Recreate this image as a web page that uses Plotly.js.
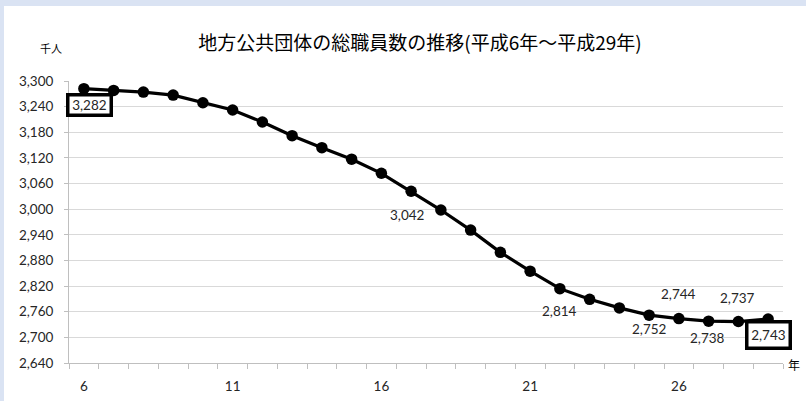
<!DOCTYPE html>
<html><head><meta charset="utf-8">
<script src="https://cdn.plot.ly/plotly-3.0.1.min.js"></script>
<style>
html,body{margin:0;padding:0;background:#dae3f3;width:806px;height:401px;overflow:hidden;}
#chart{position:absolute;left:4px;top:6px;width:802px;height:395px;background:#fff;}
</style></head><body><div id="chart"></div>
<script>
// Data (平成 year, 千人)
const years = [6,7,8,9,10,11,12,13,14,15,16,17,18,19,20,21,22,23,24,25,26,27,28,29];
const staff = [3282,3278,3274,3267,3249,3232,3204,3172,3144,3117,3084,3042,2998,2951,2899,2855,2814,2789,2769,2752,2744,2738,2737,2743];
const xTickYears = [6,11,16,21,26];
const labeledYears = [17,22,25,26,27,28];
const boxedYears = [6,29];
const chartTitle = '地方公共団体の総職員数の推移(平成6年～平成29年)';
const yUnit = '千人';
const xUnit = '年';

const numFont = "Lato, 'Open Sans', sans-serif";
const cjkFont = "'Noto Sans CJK JP', sans-serif";
const fmt = v => v.toLocaleString('en-US');

// label placement (pixel offsets from point)
const labelOffsets = {17:[-4,-24],22:[0,-22],25:[0,-14],26:[0,25],27:[-1,-17],28:[-1,24]};
const boxOffsets = {6:[6,-16,17],29:[0,-16.5,23]};

const annotations = [];
labeledYears.forEach(y => {
  const i = years.indexOf(y);
  const o = labelOffsets[y];
  annotations.push({x:y, y:staff[i], xref:'x', yref:'y', text:fmt(staff[i]), showarrow:false,
    xshift:o[0], yshift:o[1], font:{family:numFont, size:13.5, color:'#262626'}});
});
boxedYears.forEach(y => {
  const i = years.indexOf(y);
  const o = boxOffsets[y];
  annotations.push({x:y, y:staff[i], xref:'x', yref:'y', text:fmt(staff[i]), showarrow:false,
    xshift:o[0], yshift:o[1], width:40, height:o[2], bgcolor:'#fff', bordercolor:'#000', borderwidth:3.5, borderpad:0,
    font:{family:numFont, size:13.5, color:'#262626'}});
});
annotations.push({xref:'paper', yref:'paper', x:0, y:1, xshift:-18, yshift:33, text:yUnit, showarrow:false,
  xanchor:'center', yanchor:'middle', font:{family:cjkFont, size:11, color:'#000'}});
annotations.push({xref:'paper', yref:'paper', x:1, y:0, xshift:3, yshift:-1, text:xUnit, showarrow:false,
  xanchor:'left', yanchor:'middle', font:{family:cjkFont, size:12, color:'#000'}});

const boundaries = years.map(v => v - 0.5).concat([years[years.length-1] + 0.5]);

const trace = {x:years, y:staff, type:'scatter', mode:'lines+markers',
  line:{color:'#000', width:3.2}, marker:{color:'#000', size:11.5}, hoverinfo:'x+y'};

const layout = {
  width:802, height:395,
  margin:{l:65, r:23, t:75, b:38},
  paper_bgcolor:'#fff', plot_bgcolor:'#fff',
  showlegend:false,
  title:{text:chartTitle, xref:'container', yref:'container', x:0.5187, y:0.906, xanchor:'center', yanchor:'middle',
    font:{family:cjkFont, size:19, color:'#000'}},
  xaxis:{range:[5.5,29.5], tickmode:'array', tickvals:xTickYears, ticktext:xTickYears.map(String), ticks:'',
    showline:true, linecolor:'#bfbfbf', linewidth:1, showgrid:false, zeroline:false, ticklabelstandoff:11,
    tickfont:{family:numFont, size:13.5, color:'#262626'},
    minor:{tickmode:'array', tickvals:boundaries, ticks:'outside', ticklen:5, tickcolor:'#bfbfbf', tickwidth:1, showgrid:false}},
  yaxis:{range:[2640,3300], tick0:2640, dtick:60, tickformat:',', ticks:'outside', ticklen:4, tickcolor:'#bfbfbf',
    showline:true, linecolor:'#bfbfbf', linewidth:1, gridcolor:'#d9d9d9', gridwidth:1, zeroline:false, ticklabelstandoff:8,
    tickfont:{family:numFont, size:13.5, color:'#262626'}},
  annotations:annotations
};

Plotly.newPlot('chart', [trace], layout, {displayModeBar:false, staticPlot:true});
</script></body></html>
